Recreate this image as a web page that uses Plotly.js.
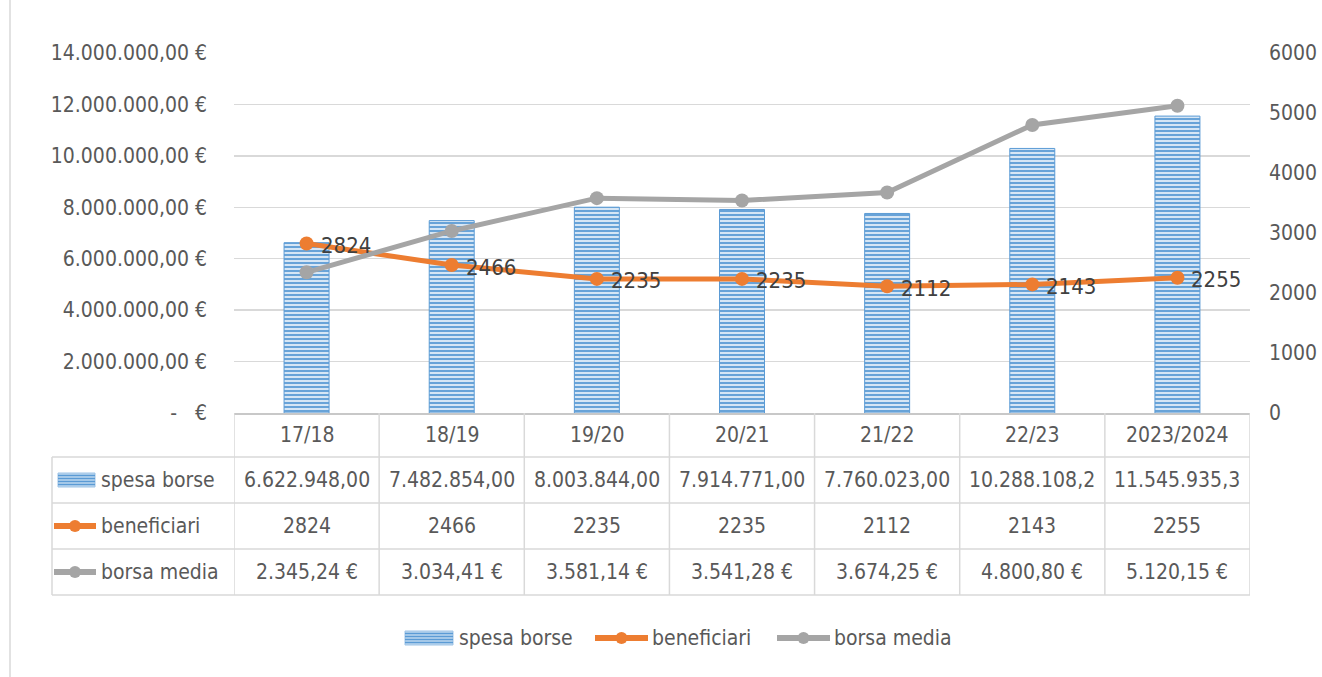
<!DOCTYPE html>
<html>
<head>
<meta charset="utf-8">
<script src="https://cdn.plot.ly/plotly-3.0.1.min.js"></script>
<style>
  html, body { margin: 0; padding: 0; background: #fff; }
  #chart { width: 1322px; height: 677px; }
</style>
</head>
<body>
<div id="chart"></div>
<script>
// data
const cats = ['17/18', '18/19', '19/20', '20/21', '21/22', '22/23', '2023/2024'];
const spesaBorse = [6622948.00, 7482854.00, 8003844.00, 7914771.00, 7760023.00, 10288108.20, 11545935.30];
const beneficiari = [2824, 2466, 2235, 2235, 2112, 2143, 2255];
const borsaMedia = [2345.24, 3034.41, 3581.14, 3541.28, 3674.25, 4800.80, 5120.15];
const seriesNames = ['spesa borse', 'beneficiari', 'borsa media'];
const leftTicks = [0, 2000000, 4000000, 6000000, 8000000, 10000000, 12000000, 14000000];
const rightTicks = [0, 1000, 2000, 3000, 4000, 5000, 6000];

const FONT = '"DejaVu Sans Condensed", "Liberation Sans Narrow", sans-serif';
const TXT = '#595959';
const GRID = '#d9d9d9';
const BLUE = '#5b9bd5';
const ORANGE = '#ed7d31';
const GREY = '#a5a5a5';

// italian number format: 1.234.567,89
function fmtIt(v, dec) {
    const parts = v.toFixed(dec).split('.');
    const i = parts[0].replace(/\B(?=(\d{3})+(?!\d))/g, '.');
    return parts[1] ? i + ',' + parts[1] : i;
}

const leftText = leftTicks.map(v => v === 0 ? '-\u00a0\u00a0\u00a0€' : fmtIt(v, 2) + ' €');

// plot area in pixels: x 234..1250, y 53..413
const plotH = 360, plotW = 1016;
const py = pix => (413 - pix) / plotH;   // pixel row -> paper y
const px = pix => (pix - 234) / plotW;   // pixel col -> paper x

const traces = [
    {
        type: 'bar', name: seriesNames[0], x: cats, y: spesaBorse, yaxis: 'y',
        width: 0.31,
        marker: {
            color: '#bdd7ee',
            line: { color: BLUE, width: 1 },
            pattern: { shape: '-', fgcolor: BLUE, bgcolor: '#d6e6f5', size: 4, solidity: 0.45 }
        },
        hoverinfo: 'skip'
    },
    {
        type: 'scatter', mode: 'lines+markers', name: seriesNames[1], x: cats, y: beneficiari, yaxis: 'y2',
        line: { color: ORANGE, width: 5 },
        marker: { color: ORANGE, size: 14 }
    },
    {
        type: 'scatter', mode: 'lines+markers', name: seriesNames[2], x: cats, y: borsaMedia, yaxis: 'y2',
        line: { color: GREY, width: 5 },
        marker: { color: GREY, size: 14 }
    }
];

const shapes = [];
const annotations = [];
const gridLine = { color: GRID, width: 1.5 };

function txt(x, xref, y, text, extra) {
    return Object.assign({ x: x, xref: xref, y: y, yref: 'paper', text: text, showarrow: false,
        xanchor: 'center', yanchor: 'middle', font: { family: FONT, size: 21, color: TXT } }, extra || {});
}

// keys drawn like the excel legend: striped box, line with dot
function barKey(x0, x1, yc) {
    shapes.push({ type: 'rect', xref: 'paper', yref: 'paper', x0: px(x0), x1: px(x1), y0: py(yc - 7), y1: py(yc + 7),
        fillcolor: '#bdd7ee', line: { color: '#9dc3e6', width: 1 } });
    [yc - 4.5, yc - 1.5, yc + 1.5, yc + 4.5].forEach(r => {
        shapes.push({ type: 'line', xref: 'paper', yref: 'paper', x0: px(x0), x1: px(x1), y0: py(r), y1: py(r),
            line: { color: BLUE, width: 1.3 } });
    });
}
function lineKey(x0, x1, yc, col) {
    shapes.push({ type: 'line', xref: 'paper', yref: 'paper', x0: px(x0), x1: px(x1), y0: py(yc), y1: py(yc),
        line: { color: col, width: 6 } });
    const m = (x0 + x1) / 2;
    shapes.push({ type: 'circle', xref: 'paper', yref: 'paper', x0: px(m - 6), x1: px(m + 6), y0: py(yc - 6), y1: py(yc + 6),
        fillcolor: col, line: { width: 0 } });
}

// chart border on the left
shapes.push({ type: 'line', xref: 'paper', yref: 'paper', x0: px(10), x1: px(10), y0: py(0), y1: py(677),
    line: { color: '#d9d9d9', width: 1.5 } });

// data table under the chart: header row + 3 series rows
const rowCenters = [435, 480, 526, 572];
shapes.push({ type: 'line', xref: 'paper', yref: 'paper', x0: px(52), x1: 1, y0: py(457), y1: py(457), line: gridLine });
[503, 549, 595].forEach(r => {
    shapes.push({ type: 'line', xref: 'paper', yref: 'paper', x0: px(52), x1: 1, y0: py(r), y1: py(r), line: gridLine });
});
for (let i = 0; i <= cats.length; i++) {
    shapes.push({ type: 'line', xref: 'x', yref: 'paper', x0: i - 0.5, x1: i - 0.5, y0: py(413), y1: py(595), line: gridLine });
}
shapes.push({ type: 'line', xref: 'paper', yref: 'paper', x0: px(52), x1: px(52), y0: py(457), y1: py(595), line: gridLine });

cats.forEach((c, i) => {
    annotations.push(txt(c, 'x', py(rowCenters[0]), c));
    annotations.push(txt(c, 'x', py(rowCenters[1]), fmtIt(spesaBorse[i], 2).slice(0, 12)));
    annotations.push(txt(c, 'x', py(rowCenters[2]), String(beneficiari[i])));
    annotations.push(txt(c, 'x', py(rowCenters[3]), fmtIt(borsaMedia[i], 2) + ' €'));
    // data labels for beneficiari
    annotations.push({ x: c, xref: 'x', y: beneficiari[i], yref: 'y2', text: String(beneficiari[i]),
        showarrow: false, xanchor: 'left', yanchor: 'middle', xshift: 12, yshift: -2,
        font: { family: FONT, size: 22, color: '#404040' } });
});

// row labels with keys
seriesNames.forEach((name, k) => {
    annotations.push(txt(px(99), 'paper', py(rowCenters[k + 1]), name, { xanchor: 'left' }));
});
barKey(58, 95, rowCenters[1]);
lineKey(54, 96, rowCenters[2], ORANGE);
lineKey(54, 96, rowCenters[3], GREY);

// legend at the bottom
const legY = 638;
barKey(405, 453, legY);
annotations.push(txt(px(457), 'paper', py(legY), seriesNames[0], { xanchor: 'left' }));
lineKey(595, 648, legY, ORANGE);
annotations.push(txt(px(650), 'paper', py(legY), seriesNames[1], { xanchor: 'left' }));
lineKey(777, 830, legY, GREY);
annotations.push(txt(px(832), 'paper', py(legY), seriesNames[2], { xanchor: 'left' }));

const layout = {
    width: 1322, height: 677,
    margin: { l: 234, r: 72, t: 53, b: 264 },
    paper_bgcolor: '#ffffff', plot_bgcolor: '#ffffff',
    font: { family: FONT, color: TXT, size: 21 },
    showlegend: false,
    xaxis: {
        type: 'category', range: [-0.5, cats.length - 0.5], showticklabels: false,
        showline: true, linecolor: '#c8c8c8', linewidth: 1.5, showgrid: false, ticks: '', fixedrange: true
    },
    yaxis: {
        range: [0, 14000000], tickvals: leftTicks, ticktext: leftText,
        showgrid: true, gridcolor: GRID, gridwidth: 1.5, zeroline: false, showline: false,
        ticklabelstandoff: 26, tickfont: { family: FONT, size: 21, color: TXT }, fixedrange: true
    },
    yaxis2: {
        range: [0, 6000], tickvals: rightTicks, overlaying: 'y', side: 'right',
        showgrid: false, zeroline: false, showline: false, ticklabelstandoff: 18,
        tickfont: { family: FONT, size: 21, color: TXT }, fixedrange: true
    },
    shapes: shapes,
    annotations: annotations
};

Plotly.newPlot('chart', traces, layout, { displayModeBar: false, staticPlot: true });
</script>
</body>
</html>
